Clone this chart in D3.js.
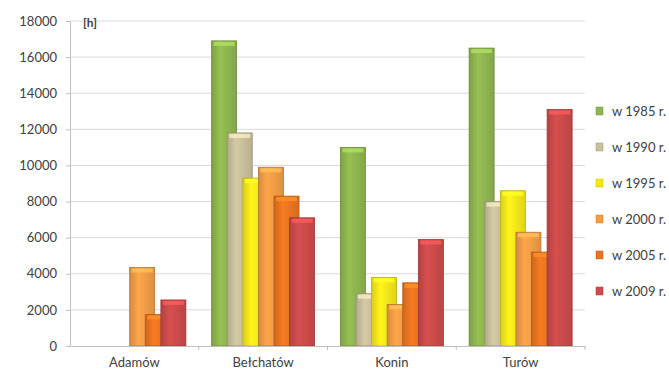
<!DOCTYPE html>
<html>
<head>
<meta charset="utf-8">
<script src="https://cdn.jsdelivr.net/npm/d3@7"></script>
<style>
  body { margin: 0; background: #fff; }
  text { font-family: Lato, "Open Sans", sans-serif; fill: #404040; }
</style>
</head>
<body>
<div id="chart"></div>
<script>
// Categories, series and values
var mines = ["Adamów", "Bełchatów", "Konin", "Turów"];
var years = ["w 1985 r.", "w 1990 r.", "w 1995 r.", "w 2000 r.", "w 2005 r.", "w 2009 r."];
var colors = ["#8fb650", "#c9c09c", "#f5e81a", "#f19d46", "#ea7520", "#cc4b4b"];
var values1985 = [null, 16900, 11000, 16500];
var values1990 = [null, 11800, 2900, 8000];
var values1995 = [null, 9300, 3800, 8600];
var values2000 = [4350, 9900, 2300, 6300];
var values2005 = [1750, 8300, 3500, 5200];
var values2009 = [2550, 7100, 5900, 13100];
var yTicks = [0, 2000, 4000, 6000, 8000, 10000, 12000, 14000, 16000, 18000];

var series = [values1985, values1990, values1995, values2000, values2005, values2009];

var svgWidth = 669, svgHeight = 377;
var margin = { top: 21, left: 70, right: 84, bottom: 31 };
var chartWidth = svgWidth - margin.left - margin.right;
var chartHeight = svgHeight - margin.top - margin.bottom;

var svg = d3.select("#chart").append("svg")
    .attr("width", svgWidth)
    .attr("height", svgHeight);

// gradients that give the bars a rounded look
var defs = svg.append("defs");
colors.forEach(function(c, i) {
    var g = defs.append("linearGradient").attr("id", "grad" + i)
        .attr("x1", "0%").attr("x2", "100%").attr("y1", "0%").attr("y2", "0%");
    g.append("stop").attr("offset", "0%").attr("stop-color", d3.color(c).darker(0.35));
    g.append("stop").attr("offset", "35%").attr("stop-color", d3.color(c).brighter(0.15));
    g.append("stop").attr("offset", "100%").attr("stop-color", d3.color(c).darker(0.25));
});

var chartGrp = svg.append("g")
    .attr("transform", `translate(${margin.left}, ${margin.top})`);

var yScale = d3.scaleLinear().domain([0, 18000]).range([chartHeight, 0]);
var xScale = d3.scaleBand().domain(mines).range([0, chartWidth]);

// gridlines
chartGrp.append("g").selectAll("line").data(yTicks.slice(1)).enter().append("line")
    .attr("x1", 0).attr("x2", chartWidth)
    .attr("y1", d => yScale(d)).attr("y2", d => yScale(d))
    .attr("stroke", "#d9d9d9").attr("stroke-width", 1);

// y axis
var leftAxis = d3.axisLeft(yScale).tickValues(yTicks).tickFormat(d3.format("d"))
    .tickSize(4).tickSizeOuter(0).tickPadding(9);
var yAxis = chartGrp.append("g").call(leftAxis);
yAxis.select(".domain").attr("stroke", "#bfbfbf");
yAxis.selectAll(".tick line").attr("stroke", "#bfbfbf");
yAxis.selectAll("text").style("font-size", "13px").attr("fill", "#404040");

// bars: overlapping columns within each category
var barW = 25, step = 15.6;
var groupW = step * (years.length - 1) + barW;
var offset = (xScale.bandwidth() - groupW) / 2;

series.forEach(function(vals, si) {
    var data = mines.map((m, i) => ({ mine: m, v: vals[i] })).filter(d => d.v !== null);
    var g = chartGrp.append("g");
    g.selectAll("rect.bar").data(data).enter().append("rect")
        .attr("class", "bar")
        .attr("x", d => xScale(d.mine) + offset + si * step)
        .attr("y", d => yScale(d.v))
        .attr("width", barW)
        .attr("height", d => chartHeight - yScale(d.v))
        .attr("fill", "url(#grad" + si + ")")
        .attr("stroke", d3.color(colors[si]).darker(0.8))
        .attr("stroke-width", 0.8);
    // light cap on top of each bar
    g.selectAll("rect.cap").data(data).enter().append("rect")
        .attr("class", "cap")
        .attr("x", d => xScale(d.mine) + offset + si * step + 2)
        .attr("y", d => yScale(d.v) + 1)
        .attr("width", barW - 4)
        .attr("height", 4)
        .attr("fill", d3.color(colors[si]).brighter(0.6))
        .attr("opacity", 0.8);
});

// x axis
var bottomAxis = d3.axisBottom(xScale).tickSize(0).tickPadding(12);
var xAxis = chartGrp.append("g").attr("transform", `translate(0, ${chartHeight})`).call(bottomAxis);
xAxis.select(".domain").attr("stroke", "#bfbfbf");
xAxis.selectAll("text").style("font-size", "13px").attr("fill", "#404040");
chartGrp.append("g").selectAll("line").data(mines).enter().append("line")
    .attr("x1", d => xScale(d) + xScale.bandwidth()).attr("x2", d => xScale(d) + xScale.bandwidth())
    .attr("y1", chartHeight).attr("y2", chartHeight + 4)
    .attr("stroke", "#bfbfbf");

// unit label
chartGrp.append("text").attr("x", 13).attr("y", 6)
    .style("font-size", "12px").style("font-weight", "bold").attr("fill", "#262626")
    .text("[h]");

// legend
var legend = svg.append("g").attr("transform", "translate(596, 112)");
var items = legend.selectAll("g").data(years).enter().append("g")
    .attr("transform", (d, i) => `translate(0, ${i * 36})`);
items.append("rect").attr("x", 0).attr("y", -5).attr("width", 7).attr("height", 8)
    .attr("fill", (d, i) => colors[i]).attr("stroke", (d, i) => d3.color(colors[i]).darker(0.6)).attr("stroke-width", 0.5);
items.append("text").attr("x", 16).attr("y", 4)
    .style("font-size", "13px").attr("fill", "#404040")
    .text(d => d);
</script>
</body>
</html>
